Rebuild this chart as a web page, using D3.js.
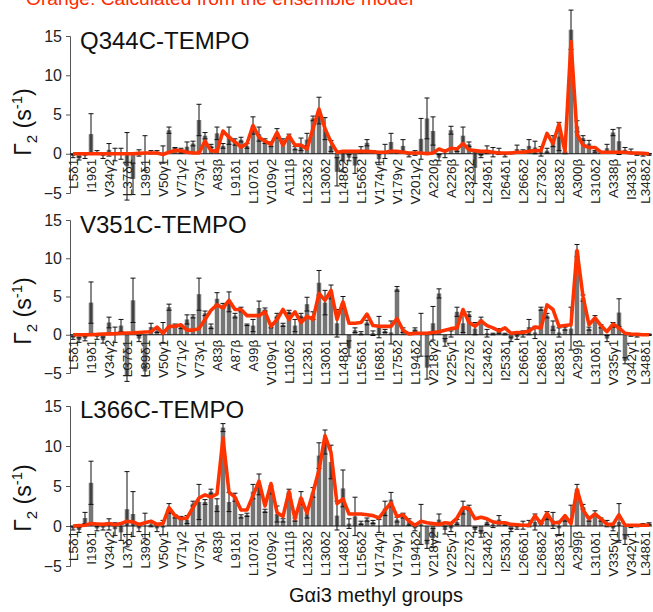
<!DOCTYPE html>
<html>
<head>
<meta charset="utf-8">
<script src="https://cdn.jsdelivr.net/npm/d3@7"></script>
<style>
  body { margin: 0; background: #fff; }
  text { font-family: "Liberation Sans", Arial, sans-serif; }
</style>
</head>
<body>
<svg id="chart" width="653" height="612"></svg>
<script>
const N_BARS = 97;
const Y_TICKS = [-5, 0, 5, 10, 15];

// tick labels (one every 3rd methyl group)
const labelsQ344 = ['L5δ1','I19δ1','V34γ2','L37δ1','L39δ1','V50γ1','V71γ2','V73γ1','A83β','L91δ1','L107δ1','V109γ2','A111β','L123δ2','L130δ2','L148δ2','L156δ2','V174γ1','V179γ2','V201γ2','A220β','A226β','L232δ2','L249δ1','I264δ1','L266δ2','L273δ2','L283δ2','A300β','L310δ2','A338β','I343δ1','L348δ2'];
const labelsV351 = ['L5δ1','I19δ1','V34γ2','L37δ1','L39δ1','V50γ1','V71γ2','V73γ1','A83β','A87β','A99β','V109γ1','L110δ2','L123δ1','L130δ1','L148δ1','L156δ1','I168δ1','L175δ2','L194δ2','V218γ2','V225γ1','L227δ2','L234δ2','I253δ1','L266δ1','L268δ2','L283δ1','A299β','L310δ1','V335γ1','V342γ1','L348δ1'];
const labelsL366 = ['L5δ1','I19δ1','V34γ2','L37δ1','L39δ1','V50γ1','V71γ2','V73γ1','A83β','L91δ1','L107δ1','V109γ2','A111β','L123δ2','L130δ2','L148δ2','L156δ2','V174γ1','V179γ1','L194δ2','V218γ2','V225γ1','L227δ2','L234δ2','I253δ1','L266δ1','L268δ2','L283δ1','A299β','L310δ1','V335γ1','V342γ1','L348δ1'];

// Q344C-TEMPO : measured Γ2, error, calculated
const obsQ344 = [-0.3,-0.6,-0.3,2.5,0.2,-0.3,0.5,-0.1,0.0,-1.6,
  -3.2,0.1,0.1,0.2,0.2,-0.1,3.0,0.7,0.4,0.9,
  1.3,4.3,2.3,1.0,2.6,1.0,2.3,1.5,1.8,1.0,
  3.6,2.5,1.6,1.2,2.6,1.6,2.3,0.7,1.2,1.8,
  4.5,5.5,3.2,1.0,-2.3,-1.0,-0.5,-1.5,0.5,1.4,
  0.3,-0.7,0.3,1.5,0.2,1.0,-0.2,0.1,1.9,4.5,
  2.9,-0.5,0.0,3.0,0.5,2.3,1.2,-1.8,-0.3,0.5,
  0.2,0.3,-0.2,0.1,0.6,0.3,1.0,0.8,0.3,0.4,
  1.6,2.2,0.1,15.8,3.5,2.0,1.3,0.3,0.2,0.7,
  2.7,1.6,0.5,0.3,-0.1,-0.2,-0.1];
const errQ344 = [0.2,0.2,0.3,2.6,0.2,0.3,0.8,0.8,0.7,4.3,
  2.0,0.4,2.2,0.2,0.2,1.1,0.4,0.1,0.3,0.6,
  0.3,2.0,0.4,0.2,0.8,0.3,1.1,0.4,0.3,0.3,
  1.1,0.9,0.3,0.3,0.6,0.3,0.2,0.2,0.8,0.8,
  0.3,1.7,1.4,0.7,1.8,1.3,0.4,1.0,0.4,0.4,
  0.1,0.7,0.9,1.1,0.1,0.8,0.2,0.3,2.6,2.6,
  1.8,0.4,0.5,0.5,0.2,1.1,0.3,2.0,0.2,0.5,
  0.6,0.4,0.2,0.1,0.5,0.2,0.8,0.8,0.6,0.3,
  0.7,1.8,0.1,2.5,0.7,0.3,0.4,0.1,0.1,0.5,
  0.4,1.7,0.3,0.3,0.1,0.1,0.1];
const calcQ344 = [0,0,0,0,0,0,0,0,0,0,
  0,0.05,0.1,0.1,0.1,-0.1,0.2,0.4,0.4,0.2,
  0.1,0.1,1.6,0.4,0.3,2.9,2.1,1.5,0.85,1.3,
  3.6,2.1,1.6,1.2,2.7,1.1,2.3,1.1,1.1,0.6,
  3.2,5.7,3.2,1.5,0.2,0.3,0.3,0.3,0.3,0.3,
  0.25,0.2,0.2,0.3,0.3,0.2,0.1,0.1,0.1,0.0,
  0.1,0.6,0.3,0.7,0.6,1.3,0.5,0.4,0.3,0.3,
  0.2,0.1,0.1,0.1,0.2,0.2,0.3,0.4,0.4,2.6,
  1.3,3.8,0.3,14.3,2.5,1.1,0.8,0.8,0.2,0.2,
  0.2,0.2,0.2,0.1,0.1,0.05,0.0];

// V351C-TEMPO
const obsV351 = [-0.4,-0.7,-0.5,4.2,-0.3,-0.7,1.6,0.0,1.2,-5.3,
  4.5,-0.5,-4.8,1.0,0.5,0.3,3.6,1.2,1.0,2.0,
  2.4,5.3,2.8,1.1,4.7,3.8,4.3,2.5,3.3,1.3,
  1.2,3.5,3.3,1.2,2.5,1.3,3.0,1.2,2.5,4.0,
  2.5,6.8,4.2,5.6,1.5,4.2,-1.8,0.6,0.2,1.6,
  0.2,1.0,0.5,0.3,6.0,0.6,0.2,0.7,0.0,-4.3,
  1.5,5.4,-1.0,0.1,3.0,1.5,2.7,0.8,2.0,0.2,
  0.1,0.5,0.1,-0.6,-0.3,0.1,1.0,0.3,3.4,2.5,
  1.2,0.3,0.8,0.8,11.0,4.8,0.8,2.2,1.1,-0.5,
  1.3,2.9,-3.4,-0.1,-0.2,0.0,0.0];
const errV351 = [0.2,0.3,0.3,2.7,0.3,0.4,0.7,1.0,0.8,0.8,
  2.9,0.4,0.6,0.5,0.2,1.3,0.4,0.2,0.2,0.6,
  0.2,2.1,0.3,0.3,0.8,0.3,1.3,0.3,0.3,0.1,
  0.8,0.9,0.2,0.3,0.3,0.2,0.2,0.8,0.3,0.9,
  0.5,1.6,1.6,0.9,1.8,0.8,1.0,0.3,0.2,0.3,
  0.3,1.4,0.2,1.5,0.3,0.3,0.1,0.2,2.8,1.5,
  2.2,0.6,0.5,0.4,0.6,1.2,0.3,0.8,0.3,0.5,
  0.1,0.3,0.1,0.3,0.3,0.4,1.0,0.8,0.2,0.3,
  0.6,0.6,0.2,2.8,0.8,0.4,0.2,0.3,0.2,0.4,
  0.3,1.8,0.4,0.1,0.1,0.1,0.1];
const calcV351 = [0,0,0,0.02,0.05,0.1,0.12,0.15,0.2,0.22,
  0.25,0.3,0.35,0.4,1.0,0.2,1.1,1.1,1.3,0.6,
  0.6,0.8,2.0,3.2,3.9,3.5,4.5,3.3,3.3,2.5,
  2.5,2.5,3.0,1.1,2.0,3.3,2.0,3.0,1.6,2.4,
  2.0,5.4,4.5,5.8,2.0,4.3,1.5,1.5,1.6,2.7,
  1.2,1.1,1.1,1.1,2.1,0.6,0.1,0.2,0.2,0.2,
  0.3,0.4,0.6,0.8,0.9,3.3,1.6,1.1,1.8,1.2,
  0.9,0.5,0.9,0.2,0.3,0.3,0.5,1.0,0.9,3.9,
  3.3,1.1,1.2,1.3,11.0,5.0,1.3,2.2,1.2,0.4,
  1.4,0.9,0.2,0.1,0.05,0,0];

// L366C-TEMPO
const obsL366 = [-0.3,-0.5,1.0,5.4,-0.3,-0.2,0.2,-0.4,-0.8,2.1,
  1.5,-0.3,0.0,0.2,-0.3,-0.2,2.2,1.2,1.0,0.8,
  2.8,3.0,3.0,4.3,2.6,12.3,3.0,3.6,1.2,1.4,
  4.3,5.2,1.9,4.5,1.5,0.7,4.3,0.8,3.5,1.6,
  4.2,8.8,10.5,8.0,1.3,4.7,0.3,1.2,0.4,0.8,
  0.5,0.0,2.2,3.3,0.8,1.3,0.5,-0.3,0.2,-2.3,
  -1.5,0.8,-0.5,-0.3,0.5,2.3,2.3,-0.5,-1.0,0.5,
  0.2,0.8,0.2,-0.5,-0.2,0.1,0.3,0.5,0.5,1.3,
  0.7,-0.3,0.8,0.0,4.6,2.4,0.8,1.6,0.8,0.3,
  -0.3,0.5,-1.7,-0.1,0.0,0.2,0.3];
const errL366 = [0.2,0.3,0.7,2.7,0.3,0.3,0.7,0.8,1.0,4.7,
  2.8,0.4,1.6,0.3,0.4,0.9,0.6,0.2,0.2,0.5,
  0.3,2.2,0.3,0.3,0.8,0.5,1.2,0.5,0.2,0.2,
  0.9,1.3,0.2,0.5,1.0,0.2,0.3,0.2,0.8,0.6,
  0.6,1.6,1.5,2.1,1.8,2.3,0.6,2.4,0.2,0.2,
  0.2,0.8,0.9,0.9,0.3,0.3,0.4,0.3,2.5,0.5,
  1.2,0.7,0.5,0.4,0.3,0.8,0.3,0.3,0.4,0.3,
  0.4,0.5,0.1,0.2,0.2,0.5,0.4,1.0,0.2,0.5,
  1.0,0.9,0.2,2.6,0.6,0.3,0.2,0.3,0.2,0.4,
  0.3,2.3,0.6,0.1,0.1,0.1,0.1];
const calcL366 = [0,0.05,0.1,0.3,0.25,0.2,0.3,0.15,0.3,0.6,
  0.5,0.2,0.4,0.6,0.2,0.3,2.3,1.3,0.9,1.0,
  2.3,3.5,3.9,3.6,4.0,11.0,4.2,3.6,2.0,2.0,
  3.8,5.6,2.5,5.3,1.7,1.2,4.3,0.9,3.5,1.6,
  4.2,7.0,11.3,9.2,2.8,3.4,1.5,1.5,1.5,1.4,
  1.3,1.0,2.0,2.9,1.2,1.4,0.6,0.1,0.6,0.4,
  0.3,0.2,0.4,0.3,1.0,2.3,2.2,0.9,1.1,0.9,
  0.5,0.4,0.4,0.2,0.15,0.1,0.1,1.3,0.3,1.6,
  0.4,0.4,1.3,0.3,4.6,2.0,0.9,1.5,0.9,0.2,
  0.2,1.4,0.1,0.1,0.1,0.1,0.1];

// panel layout (pixel positions)
const PANELS = [
  { title: 'Q344C-TEMPO', labels: labelsQ344, obs: obsQ344, err: errQ344, calc: calcQ344,
    top: 36, bottom: 193, titleY: 49, ylabelY: 122 },
  { title: 'V351C-TEMPO', labels: labelsV351, obs: obsV351, err: errV351, calc: calcV351,
    top: 220, bottom: 373, titleY: 233, ylabelY: 311 },
  { title: 'L366C-TEMPO', labels: labelsL366, obs: obsL366, err: errL366, calc: calcL366,
    top: 406, bottom: 566, titleY: 418, ylabelY: 498 }
];

const X0 = 70, X1 = 652;
const BAR_COLOR = '#757575';
const LINE_COLOR = '#ff3300';

const svg = d3.select('#chart');

const x = d3.scaleBand()
  .domain(d3.range(N_BARS))
  .range([X0, X1])
  .paddingInner(0.25)
  .paddingOuter(0.125);
const cx = i => x(i) + x.bandwidth() / 2;

// legend note, cut at the top of the picture
svg.append('text')
  .attr('x', 26).attr('y', 5)
  .attr('font-size', 19.2)
  .attr('fill', '#ff2a00')
  .text('Orange: Calculated from the ensemble model');

PANELS.forEach(p => drawPanel(p));

svg.append('text')
  .attr('x', 376).attr('y', 602)
  .attr('text-anchor', 'middle')
  .attr('font-size', 20)
  .attr('fill', '#111')
  .text('Gαi3 methyl groups');

/**
 * Dessine un panneau : barres, barres d'erreur, courbe calculée et axes.
 */
function drawPanel(p) {
  const y = d3.scaleLinear().domain([-5, 15]).range([p.bottom, p.top]);
  const g = svg.append('g');
  const idx = d3.range(N_BARS);

  // bars
  g.selectAll('rect.bar')
    .data(idx)
    .join('rect')
    .attr('class', 'bar')
    .attr('x', i => x(i))
    .attr('width', x.bandwidth())
    .attr('y', i => y(Math.max(0, p.obs[i])))
    .attr('height', i => Math.abs(y(p.obs[i]) - y(0)))
    .attr('fill', BAR_COLOR);

  // error bars
  const eb = g.selectAll('g.err')
    .data(idx)
    .join('g')
    .attr('class', 'err')
    .attr('stroke', '#111')
    .attr('stroke-width', 1);
  eb.append('line')
    .attr('x1', i => cx(i)).attr('x2', i => cx(i))
    .attr('y1', i => y(p.obs[i] + p.err[i]))
    .attr('y2', i => y(p.obs[i] - p.err[i]));
  eb.append('line')
    .attr('x1', i => cx(i) - 2.5).attr('x2', i => cx(i) + 2.5)
    .attr('y1', i => y(p.obs[i] + p.err[i])).attr('y2', i => y(p.obs[i] + p.err[i]));
  eb.append('line')
    .attr('x1', i => cx(i) - 2.5).attr('x2', i => cx(i) + 2.5)
    .attr('y1', i => y(p.obs[i] - p.err[i])).attr('y2', i => y(p.obs[i] - p.err[i]));

  // y axis
  const yAxis = g.append('g')
    .attr('transform', `translate(${X0},0)`)
    .call(d3.axisLeft(y).tickValues(Y_TICKS).tickSize(4).tickPadding(4).tickFormat(d3.format('d')));
  yAxis.select('.domain').attr('stroke', '#555');
  yAxis.selectAll('.tick line').attr('stroke', '#555');
  yAxis.selectAll('.tick text')
    .attr('font-size', 16)
    .attr('font-family', '"Liberation Sans", Arial, sans-serif')
    .attr('fill', '#222');

  // zero line
  g.append('line')
    .attr('x1', X0).attr('x2', X1)
    .attr('y1', y(0)).attr('y2', y(0))
    .attr('stroke', '#111').attr('stroke-width', 1);

  // category labels, rotated, next to the zero line
  g.selectAll('text.cat')
    .data(p.labels)
    .join('text')
    .attr('class', 'cat')
    .attr('transform', (d, k) => `translate(${Math.min(cx(k * 3), 645)},${y(0) + 5}) rotate(-90)`)
    .attr('text-anchor', 'end')
    .attr('dy', '0.35em')
    .attr('font-size', 13.5)
    .attr('fill', '#222')
    .text(d => d);

  // calculated curve
  const line = d3.line()
    .x((v, i) => cx(i))
    .y(v => y(v));
  g.append('path')
    .datum(p.calc)
    .attr('d', line)
    .attr('fill', 'none')
    .attr('stroke', LINE_COLOR)
    .attr('stroke-width', 3.6)
    .attr('stroke-linejoin', 'round');

  // panel title
  g.append('text')
    .attr('x', 80).attr('y', p.titleY)
    .attr('font-size', 24)
    .attr('fill', '#111')
    .text(p.title);

  // y label Γ2 (s-1)
  const yl = g.append('text')
    .attr('transform', `translate(31,${p.ylabelY}) rotate(-90)`)
    .attr('text-anchor', 'middle')
    .attr('font-size', 23)
    .attr('fill', '#111');
  yl.append('tspan').text('Γ');
  yl.append('tspan').attr('font-size', 15).attr('dy', 6).text('2');
  yl.append('tspan').attr('dy', -6).text(' (s');
  yl.append('tspan').attr('font-size', 15).attr('dy', -9).text('-1');
  yl.append('tspan').attr('dy', 9).text(')');
}
</script>
</body>
</html>
